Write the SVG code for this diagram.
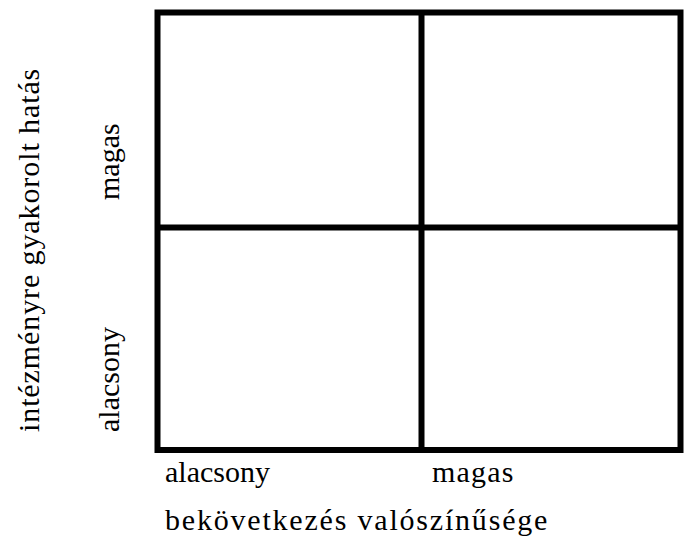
<svg xmlns="http://www.w3.org/2000/svg" width="684" height="540" viewBox="0 0 684 540">
  <style>
    .t { font-family: "Times New Roman", "Liberation Serif", Times, serif; font-size: 30px; fill: #000; }
    .ln { stroke: #000; stroke-width: 6; fill: none; }
  </style>
  <rect x="0" y="0" width="684" height="540" fill="#fff"/>
  <g id="grid">
    <rect class="ln" x="157.5" y="12.5" width="523" height="437.5"/>
    <line class="ln" x1="421.5" y1="12.5" x2="421.5" y2="450"/>
    <line class="ln" x1="157.5" y1="227.5" x2="680.5" y2="227.5"/>
  </g>
  <g id="x-axis">
    <text class="t" x="165" y="482">alacsony</text>
    <text class="t" x="432" y="482" letter-spacing="1.2">magas</text>
    <text class="t" x="165" y="530" letter-spacing="1.8">bekövetkezés valószínűsége</text>
  </g>
  <g id="y-axis">
    <text class="t" transform="translate(119,200) rotate(-90)">magas</text>
    <text class="t" transform="translate(119,432) rotate(-90)">alacsony</text>
    <text class="t" transform="translate(39,432) rotate(-90)" letter-spacing="0.9">intézményre gyakorolt hatás</text>
  </g>
</svg>
